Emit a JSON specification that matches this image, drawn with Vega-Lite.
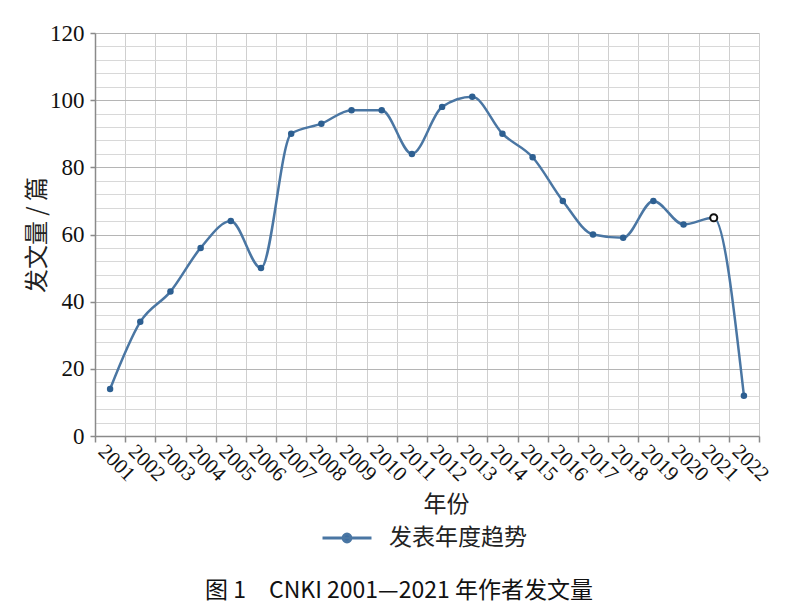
{
  "$schema": "https://vega.github.io/schema/vega-lite/v6.json",
  "width": 664,
  "height": 403,
  "autosize": {"type": "none"},
  "padding": {"left": 95, "top": 33, "right": 41, "bottom": 174},
  "background": "white",
  "title": {
    "text": "图 1　CNKI 2001—2021 年作者发文量",
    "orient": "bottom",
    "anchor": "middle",
    "font": "Noto Sans CJK SC",
    "fontSize": 23,
    "fontWeight": "normal",
    "color": "#111111",
    "dx": -28,
    "offset": 30
  },
  "data": {
    "values": [
      {"year": "2001", "count": 14},
      {"year": "2002", "count": 34},
      {"year": "2003", "count": 43},
      {"year": "2004", "count": 56},
      {"year": "2005", "count": 64},
      {"year": "2006", "count": 50},
      {"year": "2007", "count": 90},
      {"year": "2008", "count": 93},
      {"year": "2009", "count": 97},
      {"year": "2010", "count": 97},
      {"year": "2011", "count": 84},
      {"year": "2012", "count": 98},
      {"year": "2013", "count": 101},
      {"year": "2014", "count": 90},
      {"year": "2015", "count": 83},
      {"year": "2016", "count": 70},
      {"year": "2017", "count": 60},
      {"year": "2018", "count": 59},
      {"year": "2019", "count": 70},
      {"year": "2020", "count": 63},
      {"year": "2021", "count": 65},
      {"year": "2022", "count": 12}
    ]
  },
  "encoding": {
    "x": {
      "field": "year",
      "type": "ordinal",
      "bandPosition": 0.5,
      "scale": {"type": "band", "paddingInner": 0, "paddingOuter": 0},
      "axis": {
        "title": "年份",
        "titleFont": "Noto Sans CJK SC",
        "titleFontSize": 23,
        "titleFontWeight": "normal",
        "titleColor": "#222",
        "titleX": 351,
        "titlePadding": 9,
        "tickBand": "extent",
        "grid": true,
        "gridColor": "#cfcfcf",
        "gridWidth": 1,
        "domainColor": "#8a8a8a",
        "domainWidth": 1.5,
        "tickColor": "#8a8a8a",
        "tickWidth": 1.5,
        "tickSize": 6,
        "labelAngle": 45,
        "labelAlign": "left",
        "labelBaseline": "middle",
        "labelOffset": -9,
        "labelPadding": 6,
        "labelFont": "Liberation Serif",
        "labelFontSize": 21,
        "labelColor": "#111"
      }
    },
    "y": {
      "field": "count",
      "type": "quantitative",
      "scale": {"domain": [0, 120], "nice": false},
      "axis": {
        "title": "发文量 / 篇",
        "titleFont": "Noto Sans CJK SC",
        "titleFontSize": 24,
        "titleFontWeight": "normal",
        "titleColor": "#222",
        "titlePadding": 0,
        "values": [0, 4, 8, 12, 16, 20, 24, 28, 32, 36, 40, 44, 48, 52, 56, 60, 64, 68, 72, 76, 80, 84, 88, 92, 96, 100, 104, 108, 112, 116, 120],
        "labelExpr": "datum.value % 20 === 0 ? datum.label : ''",
        "grid": true,
        "gridColor": {"condition": {"test": "datum.value % 20 === 0", "value": "#b5b5b5"}, "value": "#d8d8d8"},
        "gridWidth": 1,
        "domainColor": "#8a8a8a",
        "domainWidth": 1.5,
        "tickColor": "#8a8a8a",
        "tickWidth": 1.5,
        "tickSize": 5,
        "tickOpacity": {"condition": {"test": "datum.value % 20 === 0", "value": 1}, "value": 0},
        "labelPadding": 6,
        "labelFont": "Liberation Serif",
        "labelFontSize": 23,
        "labelColor": "#111"
      }
    }
  },
  "layer": [
    {
      "mark": {"type": "line", "interpolate": "monotone", "strokeWidth": 2.5},
      "encoding": {
        "color": {
          "datum": "发表年度趋势",
          "scale": {"range": ["#4a76a3"]},
          "legend": {
            "title": null,
            "orient": "none",
            "legendX": 226,
            "legendY": 479,
            "padding": 0,
            "symbolType": "M-1,0H1M-0.16,0A0.16,0.16 0 1,1 0.16,0A0.16,0.16 0 1,1 -0.16,0Z",
            "symbolSize": 2400,
            "symbolStrokeWidth": 3,
            "symbolFillColor": "#3366a0",
            "symbolStrokeColor": "#3366a0",
            "labelFont": "Noto Sans CJK SC",
            "labelFontSize": 23,
            "labelColor": "#222",
            "labelOffset": 16
          }
        }
      }
    },
    {
      "transform": [{"filter": "datum.year !== '2021'"}],
      "mark": {"type": "point", "filled": true, "size": 42, "color": "#2d5f91", "opacity": 1}
    },
    {
      "transform": [{"filter": "datum.year === '2021'"}],
      "mark": {"type": "point", "filled": true, "fill": "white", "stroke": "#111111", "strokeWidth": 2, "size": 50, "opacity": 1}
    }
  ],
  "config": {
    "view": {"stroke": null}
  }
}
